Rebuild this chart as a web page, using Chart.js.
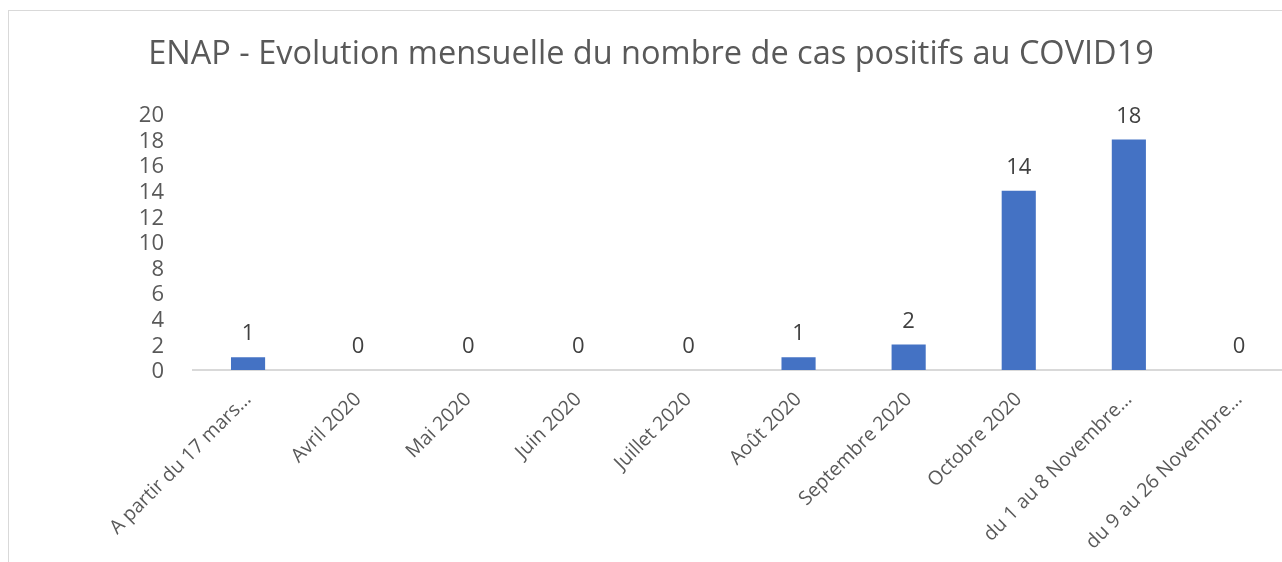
<!DOCTYPE html>
<html><head><meta charset="utf-8">
<script src="https://cdn.jsdelivr.net/npm/chart.js@4/dist/chart.umd.min.js"></script>
<style>
html,body{margin:0;padding:0;background:#fff;overflow:hidden;width:1282px;height:562px;}
#frame{position:absolute;left:8px;top:10px;width:1400px;height:700px;border:1px solid #d9d9d9;}
#wrap{position:absolute;left:0;top:0;width:1310px;height:562px;}
</style></head><body>
<div id="frame"></div>
<div id="wrap"><canvas id="c"></canvas></div>
<script>
const categories = ["A partir du 17 mars…","Avril 2020","Mai 2020","Juin 2020","Juillet 2020","Août 2020","Septembre 2020","Octobre 2020","du 1 au 8 Novembre…","du 9 au 26 Novembre…"];
const cases = [1,0,0,0,0,1,2,14,18,0];
const yTicks = [0,2,4,6,8,10,12,14,16,18,20];
const titleText = "ENAP - Evolution mensuelle du nombre de cas positifs au COVID19";
const FONT = '"Open Sans", "DejaVu Sans", sans-serif';

const barLabels = {
  id: 'barLabels',
  afterDatasetsDraw(chart) {
    const ctx = chart.ctx;
    const meta = chart.getDatasetMeta(0);
    ctx.save();
    ctx.font = '22px ' + FONT;
    ctx.fillStyle = '#404040';
    ctx.textAlign = 'center';
    ctx.textBaseline = 'middle';
    meta.data.forEach((bar, i) => {
      ctx.fillText(String(cases[i]), bar.x, bar.y - 23);
    });
    ctx.restore();
  }
};

new Chart(document.getElementById('c'), {
  type: 'bar',
  data: {
    labels: categories,
    datasets: [{
      data: cases,
      backgroundColor: '#4472C4',
      borderWidth: 0,
      barPercentage: 0.31,
      categoryPercentage: 1
    }]
  },
  options: {
    responsive: true,
    maintainAspectRatio: false,
    animation: false,
    layout: { padding: { top: 0, left: 8, right: 16, bottom: 0 } },
    plugins: {
      legend: { display: false },
      tooltip: { enabled: false },
      title: {
        display: true,
        text: titleText,
        color: '#595959',
        font: { family: FONT, size: 32.5, weight: 'normal' },
        padding: { top: 35.5, bottom: 39.5 }
      }
    },
    scales: {
      x: {
        grid: { display: false },
        border: { display: true, color: '#d9d9d9', width: 2 },
        ticks: {
          autoSkip: false, maxRotation: 45, minRotation: 45,
          color: '#595959', font: { family: FONT, size: 19.5 }, padding: 10, labelOffset: 0
        },
        afterFit: s => { s.height = 192; }
      },
      y: {
        min: 0, max: 20,
        grid: { display: false },
        border: { display: false },
        afterBuildTicks: s => { s.ticks = yTicks.map(v => ({ value: v })); },
        ticks: { autoSkip: false, color: '#595959', font: { family: FONT, size: 22 }, padding: 21, labelOffset: 2 },
        afterFit: s => { s.width = 185; }
      }
    }
  },
  plugins: [barLabels]
});
</script>
</body></html>
